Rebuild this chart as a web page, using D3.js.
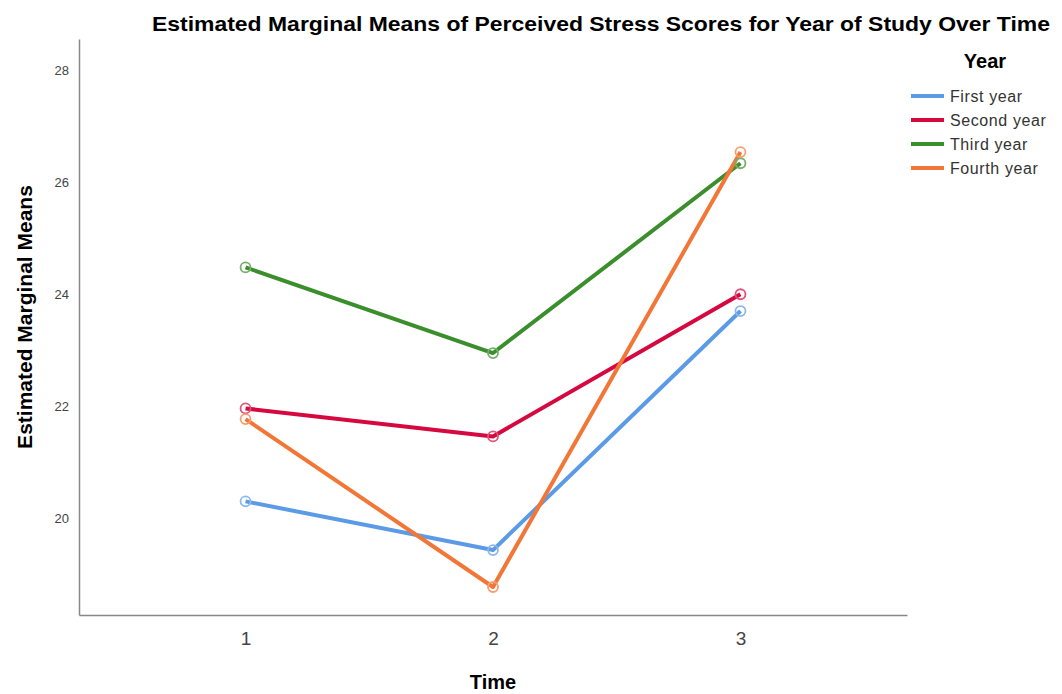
<!DOCTYPE html>
<html><head><meta charset="utf-8">
<script src="https://cdn.jsdelivr.net/npm/d3@7"></script>
<style>body{margin:0;background:#fff}svg{display:block}</style>
</head><body>
<svg id="chart" width="1062" height="694"></svg>
<script>
const times = [1, 2, 3];
const seriesNames = ["First year", "Second year", "Third year", "Fourth year"];
const firstYear = [20.30, 19.43, 23.70];
const secondYear = [21.96, 21.46, 24.00];
const thirdYear = [24.48, 22.95, 26.34];
const fourthYear = [21.77, 18.77, 26.54];
const yTicks = [20, 22, 24, 26, 28];
const colors = ["#5b9ae6", "#d5083f", "#3a8e2c", "#f27636"];

const seriesValues = [firstYear, secondYear, thirdYear, fourthYear];
const svg = d3.select("#chart");
const font = "'Liberation Sans', Arial, sans-serif";

const x = d3.scaleLinear().domain([0.327, 3.673]).range([79, 907]);
const y = d3.scaleLinear().domain([18.27, 28.56]).range([615, 39]);

// axes
const yAxis = svg.append("g").attr("transform", "translate(79,0)")
  .call(d3.axisLeft(y).tickValues(yTicks).tickSize(0).tickPadding(10).tickFormat(d3.format("d")));
yAxis.select(".domain").attr("stroke", "#888").attr("stroke-width", 1.5);
yAxis.selectAll("text").attr("font-family", font).attr("font-size", 13).attr("fill", "#444");

const xAxis = svg.append("g").attr("transform", "translate(0,615)")
  .call(d3.axisBottom(x).tickValues(times).tickSize(0).tickPadding(17).tickFormat(d3.format("d")));
xAxis.select(".domain").attr("stroke", "#888").attr("stroke-width", 1.5);
xAxis.selectAll("text").attr("font-family", font).attr("font-size", 19).attr("fill", "#444");

// title
svg.append("text").attr("x", 601).attr("y", 31).attr("text-anchor", "middle")
  .attr("font-family", font).attr("font-weight", "bold").attr("font-size", 20.5)
  .attr("textLength", 898).attr("lengthAdjust", "spacingAndGlyphs")
  .text("Estimated Marginal Means of Perceived Stress Scores for Year of Study Over Time");

// axis titles
svg.append("text").attr("x", 493).attr("y", 689).attr("text-anchor", "middle")
  .attr("font-family", font).attr("font-weight", "bold").attr("font-size", 20).text("Time");
svg.append("text").attr("transform", "translate(32,317) rotate(-90)").attr("text-anchor", "middle")
  .attr("font-family", font).attr("font-weight", "bold").attr("font-size", 21).text("Estimated Marginal Means");

// lines
const line = d3.line().x((d, i) => x(times[i])).y(d => y(d));
seriesValues.forEach((vals, k) => {
  svg.append("path").datum(vals).attr("d", line).attr("fill", "none")
    .attr("stroke", colors[k]).attr("stroke-width", 4).attr("stroke-linejoin", "round");
});
seriesValues.forEach((vals, k) => {
  svg.append("g").selectAll("circle").data(vals).join("circle")
    .attr("cx", (d, i) => x(times[i])).attr("cy", d => y(d)).attr("r", 5)
    .attr("fill", "none").attr("stroke", d3.interpolateRgb(colors[k], "#fff")(0.3)).attr("stroke-width", 1.8);
});

// legend
svg.append("text").attr("x", 985).attr("y", 68).attr("text-anchor", "middle")
  .attr("font-family", font).attr("font-weight", "bold").attr("font-size", 20).text("Year");
seriesNames.forEach((name, k) => {
  const ly = 96 + k * 24;
  svg.append("line").attr("x1", 911).attr("x2", 944).attr("y1", ly).attr("y2", ly)
    .attr("stroke", colors[k]).attr("stroke-width", 4);
  svg.append("text").attr("x", 950).attr("y", ly + 6).attr("font-family", font)
    .attr("font-size", 16).attr("fill", "#333").attr("letter-spacing", 0.6).text(name);
});
</script>
</body></html>
